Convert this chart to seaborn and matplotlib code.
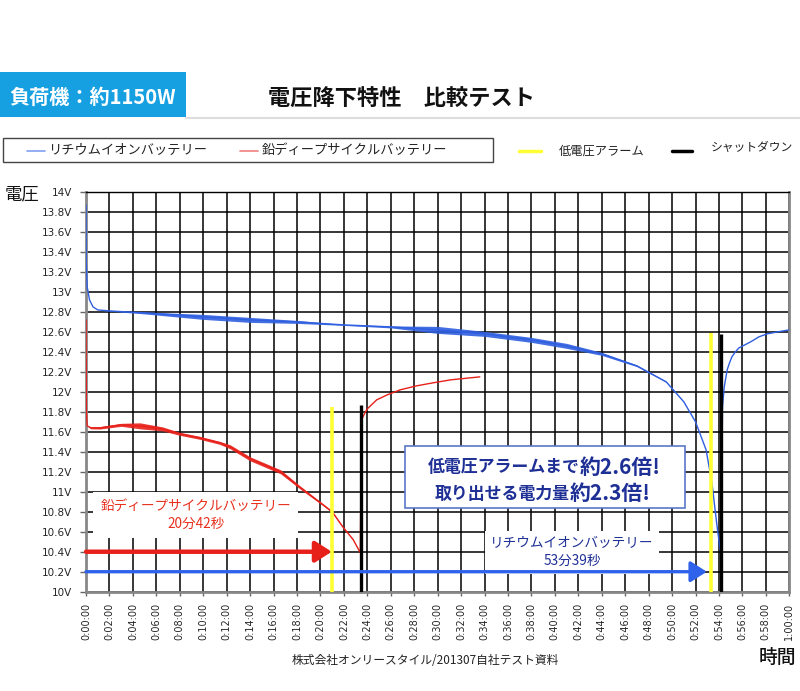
import matplotlib
matplotlib.use('Agg')
import matplotlib.pyplot as plt
import matplotlib.patches as mpatches
from matplotlib.lines import Line2D
import seaborn as sns
import numpy as np

# Lithium-ion battery voltage (minutes, volts); noise = half width of the jitter band
li_t = [0, 0.02, 0.1, 0.3, 0.6, 1.0, 2, 5, 10, 14, 18, 22, 26, 30, 34, 38, 41, 44, 47,
        49.5, 51, 52, 52.9, 53.4, 53.8, 54.1, 54.2, 54.3, 54.45, 54.7, 54.9, 55.1, 55.4,
        55.7, 56.2, 56.7, 57.4, 58.1, 59, 60]
li_v = [13.87, 13.3, 13.05, 12.92, 12.85, 12.82, 12.81, 12.79, 12.75, 12.72, 12.70, 12.67,
        12.65, 12.62, 12.58, 12.52, 12.46, 12.38, 12.26, 12.10, 11.90, 11.70, 11.42, 11.09,
        10.69, 10.42, 10.42, 11.85, 12.05, 12.22, 12.29, 12.35, 12.40, 12.44, 12.47, 12.50,
        12.55, 12.58, 12.60, 12.62]
li_noise = [0, 0, 0, 0, 0, 0, 0.003, 0.01, 0.025, 0.025, 0.015, 0.005, 0.01, 0.035, 0.025,
            0.025, 0.025, 0.015, 0.008, 0.005, 0.003, 0, 0, 0, 0, 0, 0, 0, 0, 0, 0, 0, 0, 0,
            0, 0, 0, 0, 0, 0]

# Lead deep-cycle battery voltage
pb_t = [0, 0.03, 0.1, 0.4, 1.2, 3, 4.6, 6.5, 8, 9.7, 11.4, 12.3, 14, 16.6, 18.3, 20.0,
        21.0, 21.9, 22.8, 23.4, 23.5, 23.8, 24.0, 24.8, 25.7, 26.8, 28.2, 29.6, 31.1, 33.6]
pb_v = [12.72, 11.82, 11.66, 11.64, 11.64, 11.67, 11.66, 11.63, 11.58, 11.54, 11.49, 11.45,
        11.33, 11.20, 11.04, 10.89, 10.80, 10.65, 10.52, 10.39, 11.72, 11.79, 11.83, 11.92,
        11.97, 12.02, 12.06, 12.09, 12.12, 12.15]
pb_noise = [0, 0, 0, 0.01, 0.012, 0.015, 0.03, 0.02, 0.015, 0.015, 0.015, 0.02, 0.02, 0.02,
            0.015, 0.01, 0.008, 0.005, 0.003, 0, 0, 0, 0, 0, 0, 0, 0, 0, 0, 0]

# alarm / shutdown events: (time, top voltage)
alarm_t = [20.96, 53.3]
alarm_top = [11.85, 12.59]
shutdown_t = [23.5, 54.2]
shutdown_top = [11.87, 12.58]
# arrows marking run time to the alarm
arrow_v = [10.4, 10.2]
arrow_end = [20.96, 52.96]

x_ticks = list(range(0, 61, 2))
x_labels = ['%d:%02d:00' % (m // 60, m % 60) for m in x_ticks]
y_ticks = [round(10 + 0.2 * i, 1) for i in range(21)]
y_labels = ['%gV' % v for v in y_ticks]

BLUE = '#2f5fe0'
RED = '#e8201a'
NAVY = '#1e2f96'

sns.set_style('white')
plt.rcParams['font.family'] = ['Noto Sans CJK JP', 'DejaVu Sans']

W, H = 800, 691
fig = plt.figure(figsize=(8, 6.91), dpi=100)


def px(x, y):
    return x / W, 1 - y / H


ax = fig.add_axes([86 / W, 1 - 591.7 / H, (789.3 - 86) / W, (591.7 - 192) / H])

# noise bands then curves
ax.fill_between(li_t, np.array(li_v) - np.array(li_noise), np.array(li_v) + np.array(li_noise),
                color=BLUE, lw=0, alpha=0.9, zorder=3)
ax.fill_between(pb_t, np.array(pb_v) - np.array(pb_noise), np.array(pb_v) + np.array(pb_noise),
                color=RED, lw=0, alpha=0.9, zorder=3)
sns.lineplot(x=li_t, y=li_v, ax=ax, color=BLUE, linewidth=1.0, sort=False, zorder=4)
sns.lineplot(x=pb_t, y=pb_v, ax=ax, color=RED, linewidth=1.0, sort=False, zorder=4)

ax.vlines(alarm_t, 10, alarm_top, color='#ffff33', lw=2.6, zorder=5)
ax.vlines(shutdown_t, 10, shutdown_top, color='black', lw=2.4, zorder=5)

for v, end, c, w in zip(arrow_v, arrow_end, [RED, '#2f62ea'], [3.2, 2.4]):
    ax.annotate('', xy=(end, v), xytext=(0, v),
                arrowprops=dict(arrowstyle='-|>,head_length=0.7,head_width=0.45', lw=w,
                                color=c, shrinkA=0, shrinkB=0, mutation_scale=14),
                zorder=9)

ax.set_xlim(0, 60)
ax.set_ylim(10, 14)
ax.set_xticks(x_ticks)
ax.set_xticklabels(x_labels, rotation=90, fontsize=7, family=['DejaVu Sans'])
ax.set_yticks(y_ticks)
ax.set_yticklabels(y_labels, fontsize=7.5, family=['DejaVu Sans'])
ax.tick_params(axis='y', length=4, width=1, color='#666666', pad=6, direction='out', left=True)
ax.tick_params(axis='x', length=3, width=1, color='#666666', pad=5, direction='out', bottom=True)
ax.grid(True, color='black', lw=1.1)
ax.set_axisbelow(True)
for side in ['left', 'bottom', 'right']:
    ax.spines[side].set_color('#888888')
    ax.spines[side].set_linewidth(2)
ax.spines['top'].set_color('black')
ax.spines['top'].set_linewidth(1)

# labels inside the plot
ax.text(0.156, 0.192, '鉛ディープサイクルバッテリー\n20分42秒', transform=ax.transAxes,
        ha='center', va='center', fontsize=9.8, color='#e8301e', linespacing=1.35, zorder=7,
        bbox=dict(facecolor='white', edgecolor='none', pad=5))
ax.text(0.691, 0.099, 'リチウムイオンバッテリー\n53分39秒', transform=ax.transAxes,
        ha='center', va='center', fontsize=9.8, color=NAVY, linespacing=1.35, zorder=7,
        bbox=dict(facecolor='white', edgecolor='none', pad=4))

# big comparison box
box = mpatches.Rectangle(px(405, 508), 280 / W, 62 / H, transform=fig.transFigure,
                         facecolor='white', edgecolor='#5a78c8', lw=1.2, zorder=10)
fig.add_artist(box)
for y, a, b in [(467, '低電圧アラームまで', '約2.6倍!'), (494, '取り出せる電力量', '約2.3倍!')]:
    split = 580 if y == 467 else 570
    fig.text(*px(split, y), a, ha='right', va='center', fontsize=12.2, fontweight='bold',
             color=NAVY, zorder=11)
    fig.text(*px(split, y), b, ha='left', va='center', fontsize=15, fontweight='bold',
             color=NAVY, zorder=11)

# header
fig.add_artist(mpatches.Rectangle(px(0, 117), 186 / W, 45 / H, transform=fig.transFigure,
                                  facecolor='#16a0e2', edgecolor='none'))
fig.text(*px(93, 97), '負荷機：約1150W', ha='center', va='center', fontsize=14.5,
         fontweight='bold', color='white')
fig.add_artist(Line2D([186 / W, 1], [1 - 118 / H] * 2, transform=fig.transFigure,
                      color='#dddddd', lw=1.5))
fig.text(*px(402, 99), '電圧降下特性　比較テスト', ha='center', va='center', fontsize=16,
         fontweight='bold', color='#111111')

# legend
fig.add_artist(mpatches.Rectangle(px(3, 162), 490 / W, 24 / H, transform=fig.transFigure,
                                  facecolor='white', edgecolor='#444444', lw=1))
legend_items = [(27, 45, '#7f9ff0', 1.2, 48, 150, 'リチウムイオンバッテリー', 9.5),
                (240, 258, '#f08080', 1.2, 262, 150, '鉛ディープサイクルバッテリー', 9.5),
                (519, 541, '#ffff33', 2.5, 559, 151, '低電圧アラーム', 8.8),
                (672, 692, 'black', 2.5, 711, 147, 'シャットダウン', 8.5)]
for x0, x1, c, lw, tx, ty, label, fs in legend_items:
    fig.add_artist(Line2D([x0 / W, x1 / W], [1 - 151 / H] * 2, transform=fig.transFigure,
                          color=c, lw=lw))
    fig.text(*px(tx, ty), label, ha='left', va='center', fontsize=fs, color='#222222')

# axis titles and source
fig.text(*px(22, 194), '電圧', ha='center', va='center', fontsize=12.5, color='#111111')
fig.text(*px(777, 657), '時間', ha='center', va='center', fontsize=13.5, fontweight='medium',
         color='#111111')
fig.text(*px(425, 661), '株式会社オンリースタイル/201307自社テスト資料', ha='center', va='center',
         fontsize=8.5, color='#222222')

fig.savefig('out.png', dpi=100)
